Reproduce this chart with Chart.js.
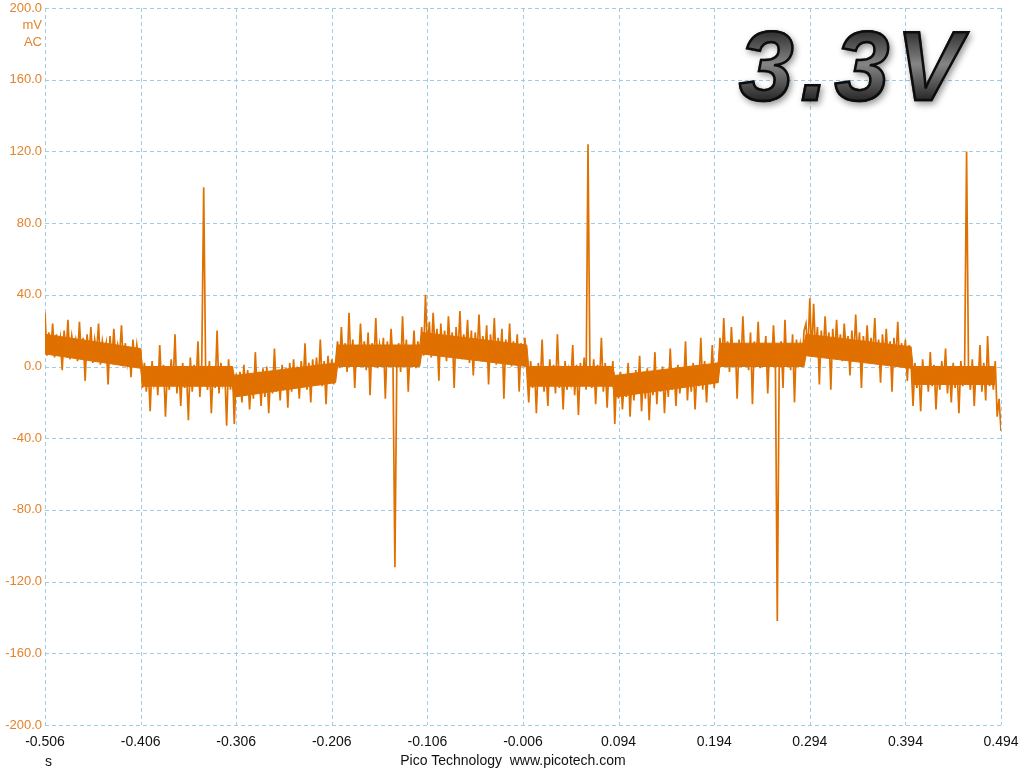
<!DOCTYPE html>
<html><head><meta charset="utf-8">
<script src="https://cdn.jsdelivr.net/npm/chart.js@4/dist/chart.umd.min.js"></script>
<style>
html,body{margin:0;padding:0;background:#fff;}
#wrap{position:relative;width:1024px;height:768px;overflow:hidden;}
canvas{display:block;}
.lbl{position:absolute;font-family:"Liberation Sans",Arial,sans-serif;white-space:nowrap;}
#unit{left:0;width:42px;top:17px;text-align:right;color:#e3832b;font-size:13px;line-height:16.5px;}
#sLbl{left:45px;top:753px;color:#111;font-size:14px;}
#foot{left:0;width:1026px;top:752px;text-align:center;color:#111;font-size:14px;}
#big{position:absolute;left:739px;top:17px;font:italic bold 98px "Liberation Sans",Arial,sans-serif;line-height:98px;letter-spacing:7px;
  background:linear-gradient(180deg,#0a0a0a 0%,#4a4a4a 25%,#858585 48%,#4a4a4a 72%,#000 100%);
  -webkit-background-clip:text;background-clip:text;color:transparent;-webkit-text-stroke:2.5px #0d0d0d;
  filter:drop-shadow(2px 3px 3px rgba(0,0,0,0.4));}
</style></head><body>
<div id="wrap">
<canvas id="c" width="1024" height="768"></canvas>
<div class="lbl" id="unit">mV<br>AC</div>
<div class="lbl" id="sLbl">s</div>
<div class="lbl" id="foot">Pico Technology&nbsp; www.picotech.com</div>
<div id="big">3.3V</div>
</div>
<script>
// Tick values / labels
const xTickValues = [-0.506,-0.406,-0.306,-0.206,-0.106,-0.006,0.094,0.194,0.294,0.394,0.494];
const xTickLabels = ["-0.506","-0.406","-0.306","-0.206","-0.106","-0.006","0.094","0.194","0.294","0.394","0.494"];
const yTickValues = [-200,-160,-120,-80,-40,0,40,80,120,160,200];
const yTickLabels = ["-200.0","-160.0","-120.0","-80.0","-40.0","0.0","40.0","80.0","120.0","160.0","200.0"];

// Capture: start time and sample interval (s)
const startTime = -0.506;
const sampleInterval = 0.002;

// Channel A samples (mV), segment by segment
const seg1 = [30,6,19,8,24,5,18,9,16,-2,20,7,26,4,17,10,15,3,25,6,16,-8,18,5,22,2,15,8,24,1,14,7,13,-10,17,3,21,4,12,6,23,0,13,2,11,-6,15,1,12,3,10];
const seg2 = [-12,2,-14,-1,-25,3,-9,0,-16,12,-11,1,-28,-2,-13,4,-10,18,-15,0,-22,2,-12,-3,-30,5,-14,1,-11,14,-17,2,100,-1,-13,3,-26,0,-12,20,-15,2,-9,-1,-33,4,-13,0];
const seg3 = [-32,-4,-17,-3,-20,1,-16,-2,-24,-5,-18,8,-15,-3,-22,-1,-17,0,-26,-4,-15,10,-14,-2,-19,1,-13,-1,-23,2,-14,4,-12,0,-18,3,-11,13,-13,2,-20,4,-10,5,-9,15,-11,3,-21,6,-8,4,-10,2];
const seg4 = [14,-1,22,2,13,-3,30,1,15,-12,12,0,24,3,14,-2,19,-16,13,1,27,-1,12,4,16,-18,14,0,21,2,-112,1,13,-3,28,0,15,-14,12,2,20,-1,14,3];
const seg5 = [22,6,40,8,25,5,30,10,21,-8,24,7,20,3,28,9,19,-12,22,6,31,4,18,8,26,2,20,-5,19,7,29,3,17,6,23,-10,18,5,27,1,16,4,21,-18,15,2,24,0,14,3,18,-14,13,1,16,-2];
const seg6 = [-20,3,-12,0,-26,2,-11,15,-14,-1,-22,4,-10,1,-15,18,-12,0,-24,3,-13,-2,-9,12,-16,1,-27,2,-11,5,-13,124,-1,-12,4,-21,1,-10,16,-14,2,-23,0,-11,3];
const seg7 = [-32,-5,-18,-3,-24,-6,-17,2,-28,-4,-19,-2,-15,6,-25,-3,-18,-1,-30,-5,-16,8,-21,-2,-14,0,-26,-3,-17,10,-13,-1,-22,1,-15,-4,-12,14,-19,0,-14,2,-24,-1,-11,16,-13,3,-20,1,-10,12,-12,2,-9];
const seg8 = [16,0,27,2,14,-3,22,1,13,-18,15,0,28,3,12,-2,19,-21,14,2,25,-1,13,4,17,-15,12,0,23,3,-142,1,14,-12,26,0,13,-2,18,-20,15,3,12,1,20];
const seg9 = [24,7,38,6,35,9,22,-10,20,6,28,8,19,-13,21,5,26,7,18,3,24,9,17,-5,20,4,29,6,19,-12,17,5,23,3,16,7,27,2,15,-9,18,4,21,1,14,-14,16,3,25,0,13,2,15,-8,12,1];
const seg10 = [-22,2,-12,-1,-25,4,-10,0,-14,8,-11,1,-24,-2,-13,3,-9,10,-15,0,-20,2,-12,-1,-26,3,-11,1,120,-2,-13,4,-22,0,-10,12,-14,2,-19,17,-11,0,-13,3,-28,-18,-36];

// Dense core of the noise band in each segment (mV): upper / lower edge at segment start and end
const bandStartTime = [-0.506,-0.404,-0.308,-0.200,-0.112,0.000,0.090,0.200,0.290,0.402];
const bandEndTime   = [-0.406,-0.310,-0.202,-0.114,-0.002,0.088,0.198,0.288,0.400,0.488];
const bandUpperStart = [18, 0,-5,12,19, 0,-5,13,18, 0];
const bandUpperEnd   = [10, 0, 2,12,12, 0, 2,13,11, 0];
const bandLowerStart = [ 7,-11,-17, 0, 7,-11,-17, 0, 6,-10];
const bandLowerEnd   = [-1,-11,-9, 0, 0,-11,-9, 0,-1,-10];

const samples = [].concat(seg1,seg2,seg3,seg4,seg5,seg6,seg7,seg8,seg9,seg10);
const points = samples.map((v,i)=>({x: startTime + i*sampleInterval, y: v}));
const upperPts = [], lowerPts = [];
bandStartTime.forEach((t,k)=>{
  upperPts.push({x:t,y:bandUpperStart[k]},{x:bandEndTime[k],y:bandUpperEnd[k]});
  lowerPts.push({x:t,y:bandLowerStart[k]},{x:bandEndTime[k],y:bandLowerEnd[k]});
});

const traceColor = '#e07000';
const gridColor = '#9fcde6';

const dashedGrid = {
  id: 'dashedGrid',
  beforeDatasetsDraw(chart) {
    const {ctx, chartArea: a, scales: {x, y}} = chart;
    ctx.save();
    ctx.strokeStyle = gridColor; ctx.lineWidth = 1; ctx.setLineDash([4,3]);
    xTickValues.forEach(v => { const px = Math.round(x.getPixelForValue(v)) + 0.5; ctx.beginPath(); ctx.moveTo(px, a.top); ctx.lineTo(px, a.bottom); ctx.stroke(); });
    yTickValues.forEach(v => { const py = Math.round(y.getPixelForValue(v)) + 0.5; ctx.beginPath(); ctx.moveTo(a.left, py); ctx.lineTo(a.right, py); ctx.stroke(); });
    ctx.restore();
  }
};

new Chart(document.getElementById('c'), {
  type: 'line',
  data: { datasets: [
    { data: points, borderColor: traceColor, borderWidth: 1.7, pointRadius: 0, tension: 0, fill: false },
    { data: upperPts, borderColor: traceColor, borderWidth: 1, backgroundColor: traceColor, pointRadius: 0, tension: 0, fill: '+1' },
    { data: lowerPts, borderColor: traceColor, borderWidth: 1, pointRadius: 0, tension: 0, fill: false }
  ] },
  options: {
    responsive: false, animation: false, devicePixelRatio: 1,
    layout: { padding: { top: 8, right: 23, left: 0, bottom: 0 } },
    plugins: { legend: { display: false }, tooltip: { enabled: false } },
    scales: {
      x: {
        type: 'linear', min: -0.506, max: 0.494,
        afterBuildTicks: s => { s.ticks = xTickValues.map(v => ({ value: v })); },
        afterFit: s => { s.height = 43; s.paddingLeft = 0; s.paddingRight = 0; },
        ticks: { callback: (v, i) => xTickLabels[i], color: '#111', font: { family: 'Liberation Sans', size: 14 }, padding: 9, maxRotation: 0, autoSkip: false },
        grid: { display: false, drawTicks: false },
        border: { display: false }
      },
      y: {
        min: -200, max: 200,
        afterBuildTicks: s => { s.ticks = yTickValues.map(v => ({ value: v })); },
        afterFit: s => { s.width = 45; s.paddingTop = 0; s.paddingBottom = 0; },
        ticks: { callback: (v, i) => yTickLabels[i], color: '#e3832b', font: { family: 'Liberation Sans', size: 13 }, padding: 3, autoSkip: false },
        grid: { display: false, drawTicks: false },
        border: { display: false }
      }
    }
  },
  plugins: [dashedGrid]
});
</script>
</body></html>
